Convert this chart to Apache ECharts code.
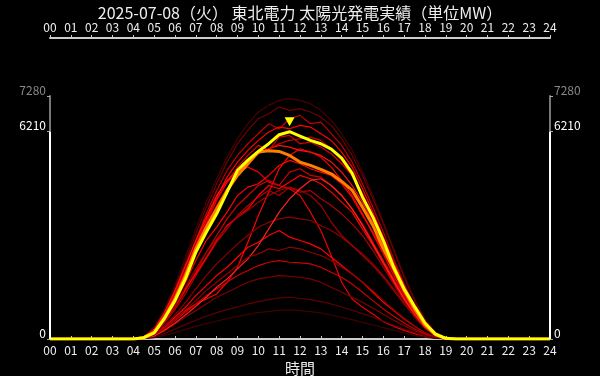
<!DOCTYPE html>
<html>
<head>
<meta charset="utf-8">
<script src="https://cdn.jsdelivr.net/npm/echarts@6/dist/echarts.min.js"></script>
<style>
  html, body { margin: 0; padding: 0; background: #000; }
  #chart { width: 600px; height: 376px; }
</style>
</head>
<body>
<div id="chart"></div>
<script>
// time of day (hours) for every value below
const hours = [0, 4, 4.5, 5, 5.5, 6, 6.5, 7, 7.5, 8, 8.5, 9, 9.5, 10, 10.5, 11, 11.5, 12, 12.5, 13, 13.5, 14, 14.5, 15, 15.5, 16, 16.5, 17, 17.5, 18, 18.5, 19, 19.5, 24];
const hourLabels = ['00','01','02','03','04','05','06','07','08','09','10','11','12','13','14','15','16','17','18','19','20','21','22','23','24'];
const yMarks = [0, 6210, 7280];

// today (yellow) and the orange day
const today = [0,0,40,180,620,1150,1800,2600,3200,3750,4400,5050,5360,5620,5850,6120,6210,6080,5950,5850,5690,5420,4970,4250,3650,2950,2150,1500,980,480,150,20,0,0];
const orangeDay = [0,0,40,200,650,1200,1900,2700,3350,3900,4450,4900,5250,5600,5640,5620,5500,5300,5200,5080,4950,4720,4460,3950,3400,2700,2100,1450,900,430,130,15,0,0];
const peakHour = 11.5;
const peakValue = 6210;

// past days (red)
const day01 = [0,0,80,350,900,1600,2450,3300,4100,4800,5450,6000,6450,6800,7000,7150,7200,7150,7050,6850,6550,6150,5650,5000,4300,3500,2700,1900,1200,600,200,40,0,0];
const day02 = [0,0,60,300,820,1500,2300,3150,3950,4650,5300,5850,6250,6600,6750,6950,6850,6900,6800,6650,6400,6000,5500,4900,4200,3450,2650,1850,1150,560,180,30,0,0];
const day03 = [0,0,50,260,760,1400,2150,2950,3750,4450,5050,5500,5850,6150,6450,6300,6600,6700,6450,6500,6150,5800,5300,4650,3950,3200,2400,1650,1000,480,150,25,0,0];
const day04 = [0,0,45,230,700,1300,2000,2800,3550,4250,4850,5300,5650,5950,6200,6350,6300,6400,6350,6150,5950,5600,5150,4500,3800,3050,2300,1600,980,460,140,20,0,0];
const day05 = [0,0,40,220,680,1250,1950,2700,3450,4150,4700,5150,5500,5800,5650,6050,6100,5850,5900,5750,5550,5250,4900,4350,3700,2950,2200,1500,920,440,130,20,0,0];
const day06 = [0,0,60,290,800,1450,2200,2950,3650,4300,4750,5050,5300,5550,5700,5800,5750,5650,5600,5500,5300,5000,4600,4100,3500,2800,2100,1450,880,420,120,18,0,0];
const day07 = [0,0,20,120,350,600,850,1050,1200,1350,1700,2150,2900,3700,4400,5100,5500,5700,5600,5450,5150,4750,4300,3750,3150,2550,1900,1300,800,380,110,15,0,0];
const day08 = [0,0,50,250,720,1350,2050,2850,3600,4200,4700,5000,5150,5000,4700,4600,4500,4300,3800,3250,2500,1700,1200,950,750,520,380,260,160,80,30,5,0,0];
const day09 = [0,0,30,180,520,950,1450,2000,2600,3100,3600,4000,4300,4600,4750,4600,5000,5100,4900,4850,4600,4300,3900,3450,2900,2350,1800,1250,780,380,110,15,0,0];
const day10 = [0,0,30,170,480,880,1350,1900,2400,2900,3300,3700,4000,4250,4450,4300,4550,4400,4450,4200,4000,3750,3450,3100,2650,2150,1650,1150,720,350,100,12,0,0];
const day11 = [0,0,35,190,540,1000,1500,1950,2450,2950,3400,3650,3900,4300,4600,4500,4700,4900,4800,4650,4400,4100,3800,3300,2800,2250,1700,1200,740,350,100,12,0,0];
const day12 = [0,0,25,140,400,720,1100,1500,1900,2250,2550,2850,3100,3350,3500,3600,3650,3600,3550,3400,3250,3050,2800,2550,2250,1900,1500,1100,700,340,100,12,0,0];
const day13 = [0,0,20,120,350,650,950,1300,1600,1900,2150,2450,2750,2900,3100,3250,3050,2950,2850,2700,2450,2200,1950,1700,1400,1100,850,600,380,180,50,8,0,0];
const day14 = [0,0,20,110,300,550,800,1050,1300,1500,1700,1900,2050,2200,2300,2350,2300,2280,2250,2150,2000,1850,1650,1400,1150,900,680,480,300,150,45,6,0,0];
const day15 = [0,0,15,90,250,450,650,850,1050,1250,1400,1550,1700,1800,1850,1900,1880,1850,1800,1700,1550,1400,1250,1100,920,740,560,400,250,120,35,5,0,0];
const day16 = [0,0,10,60,170,300,430,560,680,790,880,960,1050,1120,1180,1230,1250,1220,1180,1120,1050,960,860,760,650,530,410,300,190,90,25,3,0,0];
const day17 = [0,0,8,40,110,200,290,380,460,540,610,680,740,790,830,860,870,850,820,780,720,650,580,500,420,340,260,180,110,55,15,2,0,0];
const day18 = [0,0,40,210,600,1100,1700,2350,2950,3350,3800,4300,4550,4650,4900,5200,5350,5250,5100,5000,4900,4650,4250,3700,3200,2650,2000,1400,860,410,120,16,0,0];
const day19 = [0,0,35,200,560,1000,1550,2100,2600,3000,3350,3650,3850,4100,4300,4450,4550,4450,4300,4000,3500,3100,2800,2500,2200,1850,1450,1050,660,320,95,12,0,0];
const day20 = [0,0,15,90,260,480,720,980,1250,1550,1800,2100,2400,2800,3300,3800,4200,4500,4750,4800,4600,4300,3900,3400,2850,2300,1750,1200,740,350,100,12,0,0];
const day21 = [0,0,45,240,690,1280,1950,2700,3400,4000,4500,4950,5300,5550,5700,5850,5950,6000,6050,5950,5700,5350,4900,4300,3650,2900,2150,1480,900,430,130,20,0,0];
const day22 = [0,0,20,120,330,600,880,1150,1450,1700,1950,2200,2450,2550,2700,2650,2750,2700,2600,2500,2350,2150,1950,1700,1450,1150,880,620,390,190,55,8,0,0];

const pastDays = [day01, day02, day03, day04, day05, day06, day07, day08, day09, day10, day11,
                  day12, day13, day14, day15, day16, day17, day18, day19, day20, day21, day22];
const pastColors = ['#4a0000', '#700000', '#c00000', '#ff0000', '#e00000', '#ff1010', '#ff0000', '#ee0000',
                    '#d00000', '#b00000', '#ff0000', '#900000', '#ff0000', '#cc0000', '#800000', '#600000',
                    '#400000', '#ff0000', '#a00000', '#ff2020', '#d00000', '#900000'];

function pairs(values) {
    return values.map((v, i) => [hours[i], v]);
}

const chart = echarts.init(document.getElementById('chart'));
const font = '"Noto Sans CJK JP", "Noto Sans", sans-serif';

const series = pastDays.map((d, i) => ({
    type: 'line',
    data: pairs(d),
    showSymbol: false,
    silent: true,
    lineStyle: { color: pastColors[i], width: 1.2 },
    z: 2
}));

series.push({
    type: 'line',
    data: pairs(orangeDay),
    showSymbol: false,
    lineStyle: { color: '#ff8000', width: 3 },
    z: 3
});

series.push({
    type: 'line',
    data: pairs(today),
    showSymbol: false,
    lineStyle: { color: '#ffff00', width: 3 },
    z: 4,
    markPoint: {
        symbol: 'triangle',
        symbolRotate: 180,
        symbolSize: [10, 9],
        symbolOffset: [0, -10],
        itemStyle: { color: '#ffff00' },
        label: { show: false },
        data: [{ coord: [peakHour, peakValue] }]
    }
});

// white part of the y axes (0 .. peak)
[0, 24].forEach(x => {
    series.push({
        type: 'line',
        data: [[x, 0], [x, peakValue]],
        showSymbol: false,
        clip: false,
        silent: true,
        lineStyle: { color: '#ffffff', width: 2 },
        z: 5
    });
});

function xAxisBase(pos) {
    return {
        type: 'value',
        position: pos,
        min: 0,
        max: 24,
        interval: 1,
        splitLine: { show: false },
        axisLine: { show: true, onZero: false, lineStyle: { color: '#cccccc', width: 2 } },
        axisTick: { show: true, inside: pos === 'bottom', length: 3, lineStyle: { color: '#cccccc' } },
        axisLabel: {
            color: '#eeeeee',
            fontSize: 12,
            fontFamily: font,
            margin: 5,
            formatter: v => hourLabels[v]
        }
    };
}

function yAxisBase(pos) {
    return {
        type: 'value',
        position: pos,
        min: 0,
        max: 7280,
        splitLine: { show: false },
        axisLine: { show: true, onZero: false, lineStyle: { color: '#777777', width: 2 } },
        axisTick: { show: true, customValues: yMarks, length: 3, lineStyle: { color: '#aaaaaa' } },
        axisLabel: {
            customValues: yMarks,
            fontSize: 12,
            fontFamily: font,
            margin: 4,
            verticalAlign: 'bottom',
            formatter: v => String(v),
            color: v => Number(v) === 7280 ? '#888888' : '#ffffff'
        }
    };
}

const bottomAxis = xAxisBase('bottom');
bottomAxis.name = '時間';
bottomAxis.nameLocation = 'middle';
bottomAxis.nameGap = 20;
bottomAxis.nameTextStyle = { color: '#eeeeee', fontSize: 15, fontFamily: font };

const topAxis = xAxisBase('top');
topAxis.offset = 58;

const option = {
    backgroundColor: '#000000',
    animation: false,
    title: {
        text: '2025-07-08（火） 東北電力 太陽光発電実績（単位MW）',
        left: 'center',
        top: 0,
        textStyle: { color: '#eeeeee', fontSize: 16, fontWeight: 'normal', fontFamily: font }
    },
    grid: { left: 50, right: 50, top: 96, bottom: 37, outerBoundsMode: 'none' },
    xAxis: [bottomAxis, topAxis],
    yAxis: [yAxisBase('left'), yAxisBase('right')],
    series: series
};
chart.setOption(option);
</script>
</body>
</html>
